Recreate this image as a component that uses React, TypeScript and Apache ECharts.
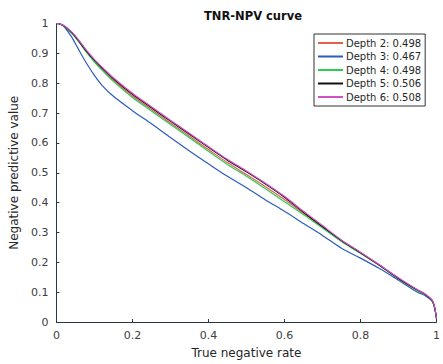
import React, { useEffect, useRef } from "react";
import * as echarts from "echarts";

const xs = [0, 0.01, 0.02, 0.04, 0.06, 0.08, 0.1, 0.12, 0.15, 0.2, 0.25, 0.3, 0.35, 0.4, 0.45, 0.5, 0.55, 0.6, 0.65, 0.7, 0.75, 0.8, 0.85, 0.9, 0.95, 0.97, 0.99, 1.0];

const depth5 = [1, 0.998, 0.992, 0.970, 0.940, 0.906, 0.877, 0.851, 0.815, 0.763, 0.718, 0.673, 0.629, 0.585, 0.542, 0.503, 0.462, 0.418, 0.368, 0.32, 0.273, 0.232, 0.19, 0.146, 0.107, 0.093, 0.069, 0.012];
const depth6 = [1, 0.998, 0.993, 0.972, 0.943, 0.909, 0.880, 0.854, 0.818, 0.766, 0.721, 0.676, 0.632, 0.588, 0.545, 0.506, 0.465, 0.421, 0.371, 0.323, 0.275, 0.234, 0.192, 0.148, 0.108, 0.094, 0.07, 0.012];
const depth4 = [1, 0.998, 0.991, 0.968, 0.937, 0.902, 0.871, 0.844, 0.806, 0.752, 0.707, 0.662, 0.617, 0.572, 0.528, 0.488, 0.446, 0.403, 0.36, 0.315, 0.27, 0.23, 0.19, 0.145, 0.105, 0.091, 0.069, 0.012];
const depth2 = [1, 0.998, 0.991, 0.969, 0.938, 0.904, 0.874, 0.847, 0.81, 0.757, 0.712, 0.667, 0.622, 0.578, 0.534, 0.494, 0.453, 0.41, 0.364, 0.318, 0.271, 0.231, 0.19, 0.145, 0.106, 0.092, 0.069, 0.012];
const depth3 = [1, 0.998, 0.990, 0.955, 0.909, 0.865, 0.826, 0.793, 0.756, 0.708, 0.664, 0.618, 0.573, 0.53, 0.488, 0.45, 0.409, 0.371, 0.33, 0.29, 0.247, 0.214, 0.179, 0.14, 0.1, 0.088, 0.067, 0.012];

const seriesNames = ["Depth 2: 0.498", "Depth 3: 0.467", "Depth 4: 0.498", "Depth 5: 0.506", "Depth 6: 0.508"];
const seriesValues = [depth2, depth3, depth4, depth5, depth6];
const seriesColors = ["#e0604a", "#2a5cc0", "#2ecc55", "#111111", "#d050c8"];

const FONT = "DejaVu Sans";

export default function App() {
  const ref = useRef<HTMLDivElement>(null);
  useEffect(() => {
    if (!ref.current) return;
    const chart = echarts.init(ref.current, null, { renderer: "svg" });
    const axisCommon = {
      min: 0,
      max: 1,
      axisLine: { show: true, lineStyle: { color: "#263a44", width: 1 } },
      axisTick: { show: true, inside: true, length: 3, lineStyle: { color: "#263a44" } },
      splitLine: { show: false },
      axisLabel: { color: "#404040", fontSize: 11, fontFamily: FONT },
      nameTextStyle: { color: "#262626", fontSize: 12, fontFamily: FONT },
    };
    chart.setOption({
      animation: false,
      backgroundColor: "#ffffff",
      title: {
        text: "TNR-NPV curve",
        left: 248,
        textAlign: "center",
        top: 5,
        textStyle: { fontSize: 11.5, fontWeight: "bold", color: "#111", fontFamily: FONT },
      },
      legend: {
        orient: "vertical",
        left: 314,
        top: 34,
        padding: [3, 4, 3, 4],
        borderColor: "#333",
        borderWidth: 1,
        backgroundColor: "#fff",
        itemWidth: 25,
        itemHeight: 2,
        itemGap: 1.5,
        icon: "rect",
        data: seriesNames,
        textStyle: { fontSize: 10, color: "#262626", fontFamily: FONT, lineHeight: 12, padding: [0, 0, 0, -2] },
      },
      grid: { left: 55, right: 2, top: 23.5, bottom: 40, containLabel: false },
      xAxis: {
        type: "value",
        interval: 0.2,
        name: "True negative rate",
        nameLocation: "middle",
        nameGap: 25,
        ...axisCommon,
        axisLabel: { ...axisCommon.axisLabel, margin: 8, formatter: (v: number) => String(+v.toFixed(1)) },
      },
      yAxis: {
        type: "value",
        interval: 0.1,
        name: "Negative predictive value",
        nameLocation: "middle",
        nameGap: 29,
        ...axisCommon,
        axisLabel: { ...axisCommon.axisLabel, margin: 8, formatter: (v: number) => String(+v.toFixed(1)) },
      },
      series: seriesNames.map((name, i) => ({
        name,
        type: "line",
        data: xs.map((x, j) => [x, seriesValues[i][j]]),
        showSymbol: false,
        smooth: 0.3,
        lineStyle: { color: seriesColors[i], width: 1.2 },
        itemStyle: { color: seriesColors[i] },
      })),
    });
    return () => chart.dispose();
  }, []);
  return <div ref={ref} style={{ width: 443, height: 364, position: "absolute", left: 0, top: 0 }} />;
}
